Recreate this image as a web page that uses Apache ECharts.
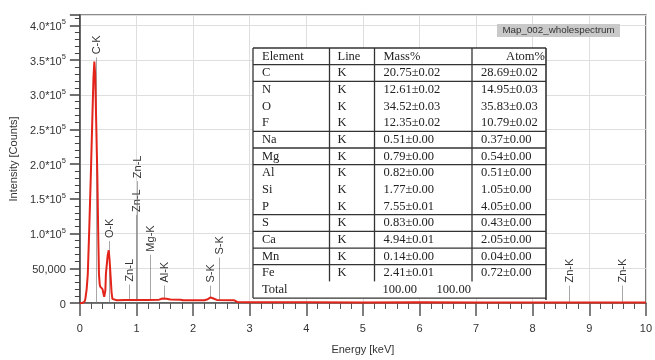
<!DOCTYPE html>
<html>
<head>
<meta charset="utf-8">
<script src="https://cdn.jsdelivr.net/npm/echarts@6/dist/echarts.min.js"></script>
<style>html,body{margin:0;padding:0;background:#fff}#c{width:655px;height:360px}</style>
</head>
<body>
<div id="c"></div>
<script>
// ---- spectrum data (keV, counts) ----
const energy = [0.00,0.04,0.06,0.08,0.095,0.12,0.14,0.165,0.192,0.22,0.24,0.256,0.27,0.29,0.309,0.325,0.337,0.35,0.36,0.38,0.40,0.42,0.43,0.45,0.46,0.49,0.51,0.525,0.54,0.56,0.575,0.60,0.65,0.80,1.00,1.20,1.40,1.46,1.49,1.53,1.60,1.78,1.82,2.20,2.26,2.31,2.36,2.42,2.72,2.78,3.00,4.00,5.00,6.00,7.00,8.00,9.00,10.00];
const counts = [0,0,0,1500,5000,20000,42000,105000,180000,265000,325000,348000,330000,255000,180000,95000,42000,27000,23500,23000,20000,12000,9000,18000,42000,68000,76000,62000,42000,15000,6000,4500,4000,4500,4500,4500,4800,6500,7500,6000,5000,4800,4000,4000,5500,8000,6500,4500,4000,1500,1000,1000,900,1000,900,900,800,800];

// ---- element line markers ----
const markerNames = ['C-K','O-K','Zn-L','Zn-L','Zn-L','Mg-K','Al-K','S-K','S-K','Zn-K','Zn-K'];
const markerEnergy = [0.277,0.52,0.87,1.0,1.01,1.245,1.48,2.30,2.455,8.64,9.58];
const markerTop = [354000,89200,26500,126800,175600,69700,25100,25100,65500,25100,25100];
const markerBase = [0,0,4500,4500,4500,4500,7000,8000,4500,1000,1000];

// ---- axis ----
const xTicks = [0,1,2,3,4,5,6,7,8,9,10];
const yTickLabels = {0:'0',50000:'50,000',100000:'1.0*10',150000:'1.5*10',200000:'2.0*10',250000:'2.5*10',300000:'3.0*10',350000:'3.5*10',400000:'4.0*10'};

// ---- table ----
const tableHeader = ['Element','Line','Mass%','Atom%'];
const tableElements = ['C','N','O','F','Na','Mg','Al','Si','P','S','Ca','Mn','Fe'];
const tableLines = ['K','K','K','K','K','K','K','K','K','K','K','K','K'];
const tableMass = ['20.75±0.02','12.61±0.02','34.52±0.03','12.35±0.02','0.51±0.00','0.79±0.00','0.82±0.00','1.77±0.00','7.55±0.01','0.83±0.00','4.94±0.01','0.14±0.00','2.41±0.01'];
const tableAtom = ['28.69±0.02','14.95±0.03','35.83±0.03','10.79±0.02','0.37±0.00','0.54±0.00','0.51±0.00','1.05±0.00','4.05±0.00','0.43±0.00','2.05±0.00','0.04±0.00','0.72±0.00'];
const tableTotal = ['Total','100.00','100.00'];
const tableRuleAfter = [0,1,4,5,6,9,10,11,12];
const legendTitle = 'Map_002_wholespectrum';

const chart = echarts.init(document.getElementById('c'));
const FONT = '"Liberation Sans", Arial, sans-serif';
const SERIF = '"Liberation Serif", "Times New Roman", serif';

// table graphic
const T = {x:253, y:48, w:293, rowH:16.67, cols:[253,329.5,374.5,472,546]};
const tg = [];
const nRows = 2 + tableElements.length;
tg.push({type:'rect', shape:{x:T.x,y:T.y,width:T.w,height:nRows*T.rowH}, style:{fill:'#fff'}});
const txt = (s,x,y,align) => ({type:'text', x:x, y:y, style:{text:s, fill:'#222', font:'12.5px '+SERIF, align:align||'left', verticalAlign:'middle'}});
const ln = (x1,y1,x2,y2,w) => ({type:'line', shape:{x1:x1,y1:y1,x2:x2,y2:y2}, style:{stroke:'#333', lineWidth:w||1.3}});
const rowY = i => T.y + (i+0.5)*T.rowH;
tg.push(txt(tableHeader[0], T.cols[0]+9, rowY(0)));
tg.push(txt(tableHeader[1], T.cols[1]+8, rowY(0)));
tg.push(txt(tableHeader[2], T.cols[2]+9, rowY(0)));
tg.push(txt(tableHeader[3], T.cols[4]-1, rowY(0), 'right'));
tableElements.forEach((e,i) => {
  tg.push(txt(e, T.cols[0]+9, rowY(i+1)));
  tg.push(txt(tableLines[i], T.cols[1]+8, rowY(i+1)));
  tg.push(txt(tableMass[i], T.cols[2]+9, rowY(i+1)));
  tg.push(txt(tableAtom[i], T.cols[3]+9, rowY(i+1)));
});
tg.push(txt(tableTotal[0], T.cols[0]+9, rowY(nRows-1)));
tg.push(txt(tableTotal[1], T.cols[2]+8, rowY(nRows-1)));
tg.push(txt(tableTotal[2], T.cols[2]+62, rowY(nRows-1)));
const yBottom = T.y + nRows*T.rowH;
const yFe = T.y + (nRows-1)*T.rowH;
tableRuleAfter.forEach(r => tg.push(ln(T.x, T.y+(r+1)*T.rowH, T.cols[4], T.y+(r+1)*T.rowH)));
[1,2,3].forEach(c => tg.push(ln(T.cols[c], T.y, T.cols[c], yFe)));
tg.push(ln(T.x, T.y, T.cols[4], T.y));
tg.push(ln(T.x, T.y, T.x, yBottom));
tg.push(ln(T.x, yBottom, T.cols[4], yBottom));
tg.push(ln(T.cols[4], T.y, T.cols[4], yBottom+2, 1.6));

// legend box
tg.push({type:'rect', shape:{x:497,y:24,width:123,height:13}, style:{fill:'#c9c9c9'}});
tg.push({type:'text', x:558.5, y:30.5, style:{text:legendTitle, fill:'#333', font:'9.8px '+FONT, align:'center', verticalAlign:'middle'}});

const markerData = markerEnergy.map((e,i) => [e, markerTop[i], markerBase[i]]);

chart.setOption({
  animation:false,
  backgroundColor:'#fff',
  grid:{left:78, right:4, top:15, bottom:47, show:true, borderColor:'#666', borderWidth:1.5, backgroundColor:'transparent'},
  xAxis:{
    type:'value', min:xTicks[0], max:xTicks[xTicks.length-1], interval:1,
    name:'Energy [keV]', nameLocation:'middle', nameGap:41,
    nameTextStyle:{color:'#333', fontSize:11, fontFamily:FONT},
    axisLine:{show:true, onZero:false, lineStyle:{color:'#555', width:1.5}},
    axisTick:{show:true, length:13, lineStyle:{color:'#555', width:1.5}},
    minorTick:{show:true, splitNumber:5, length:6, lineStyle:{color:'#555', width:1}},
    axisLabel:{color:'#333', fontSize:11, fontFamily:FONT, margin:20},
    splitLine:{show:true, lineStyle:{color:'#dedede', width:1}}
  },
  yAxis:{
    type:'value', min:0, max:415000, interval:50000,
    name:'Intensity [Counts]', nameLocation:'middle', nameGap:58, nameRotate:90,
    nameTextStyle:{color:'#333', fontSize:11, fontFamily:FONT},
    axisLine:{show:true, lineStyle:{color:'#444', width:1.5}},
    axisTick:{show:true, length:10, lineStyle:{color:'#444', width:1.5}},
    minorTick:{show:true, splitNumber:5, length:5, lineStyle:{color:'#444', width:1}},
    axisLabel:{
      color:'#333', fontSize:11, fontFamily:FONT, margin:14,
      formatter: v => {
        const s = yTickLabels[v];
        if (s === undefined) return '';
        if (v >= 100000) return '{b|' + s + '}{s|5}';
        return '{b|' + s + '}';
      },
      rich:{
        b:{fontSize:11, fontFamily:FONT, color:'#333', lineHeight:14, verticalAlign:'bottom'},
        s:{fontSize:7.5, fontFamily:FONT, color:'#333', lineHeight:14, verticalAlign:'top', padding:[0,0,0,0]}
      }
    },
    splitLine:{show:true, lineStyle:{color:'#dedede', width:1}}
  },
  series:[
    {
      type:'custom', z:1, clip:false, silent:true,
      data: markerData,
      renderItem:(params, api) => {
        const i = params.dataIndex;
        const p1 = api.coord([api.value(0), api.value(1)]);
        const p0 = api.coord([api.value(0), api.value(2)]);
        const x = Math.round(p1[0]) + 0.5;
        return {type:'group', children:[
          {type:'line', shape:{x1:x, y1:p1[1], x2:x, y2:p0[1]}, style:{stroke:'rgba(110,110,110,0.6)', lineWidth:1}},
          {type:'text', x:x, y:p1[1]-3, rotation:Math.PI/2,
           style:{text:markerNames[i], fill:'#333', font:'11px '+FONT, align:'left', verticalAlign:'middle'}}
        ]};
      }
    },
    {
      type:'line', z:3, showSymbol:false, smooth:false,
      data: energy.map((e,i) => [e, counts[i]]),
      lineStyle:{color:'#e3241b', width:2}
    }
  ],
  graphic: tg.map(g => Object.assign({z:100}, g))
});
</script>
</body>
</html>
